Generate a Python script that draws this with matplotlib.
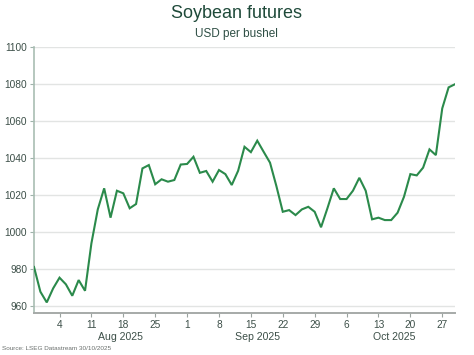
import matplotlib
matplotlib.use("Agg")
import matplotlib.pyplot as plt
import numpy as np
import pandas as pd

plt.rcParams['font.family'] = ['Liberation Sans', 'DejaVu Sans']

start_date = "2025-07-29"
end_date = "2025-10-29"
prices = [
    981.0, 967.6, 961.8, 969.4,
    975.2, 971.6, 965.4, 973.9, 968.1,
    993.8, 1012.2, 1023.6, 1007.7, 1022.3,
    1020.9, 1012.8, 1015.1, 1034.4, 1036.2,
    1025.8, 1028.5, 1027.2, 1028.1, 1036.5,
    1036.8, 1040.7, 1032.0, 1033.0, 1027.2,
    1033.5, 1031.3, 1025.4, 1033.1, 1046.1,
    1043.2, 1049.4, 1043.4, 1037.5, 1024.8,
    1010.9, 1011.8, 1009.1, 1012.2, 1013.6,
    1010.9, 1002.5, 1012.8, 1023.6, 1017.8,
    1017.8, 1022.3, 1029.3, 1022.3, 1006.8,
    1007.7, 1006.4, 1006.4, 1010.4, 1019.0,
    1031.3, 1030.6, 1034.8, 1044.7, 1041.6,
    1066.9, 1078.3, 1080.0,
]
y_ticks = [960, 980, 1000, 1020, 1040, 1060, 1080, 1100]
month_labels = ["Aug 2025", "Sep 2025", "Oct 2025"]

dates = pd.bdate_range(start_date, end_date)
idx = np.arange(len(dates))

fig = plt.figure(figsize=(4.74, 3.55), dpi=100)
ax = fig.add_axes([34/474, 1 - 313.3/355, (455 - 34)/474, (313.3 - 47.3)/355])

ax.plot(idx, prices, color='#2b8a4b', lw=1.5, solid_joinstyle='miter', zorder=3)

ax.set_xlim(0, len(dates) - 1)
ax.set_ylim(955.9, 1100)
ax.set_yticks(y_ticks)
ax.grid(axis='y', color='#e2e4e3', lw=1.0, zorder=0)

mondays = [i for i, d in enumerate(dates) if d.weekday() == 0]
ax.set_xticks(mondays)
ax.set_xticklabels([str(dates[i].day) for i in mondays])

tick_col = '#3c4f48'
ax.tick_params(axis='x', direction='out', length=3, width=0.8, color='#9aa39f',
               labelsize=7.3, labelcolor=tick_col, pad=1.5)
ax.tick_params(axis='y', direction='out', length=3, width=0.8, color='#9fb3aa',
               labelsize=7.3, labelcolor=tick_col, pad=2)

for s in ['top', 'right']:
    ax.spines[s].set_visible(False)
ax.spines['left'].set_color('#a9bdb3')
ax.spines['left'].set_linewidth(1.2)
ax.spines['bottom'].set_color('#a6aaa8')
ax.spines['bottom'].set_linewidth(1.4)

months = dates.month
for lab, m in zip(month_labels, [8, 9, 10]):
    ii = np.where(months == m)[0]
    c = (ii[0] + ii[-1] + 1) / 2
    c = min(c, len(dates) - 1 - 4)
    ax.text(c, -0.09, lab, transform=ax.get_xaxis_transform(), ha='center', va='center',
            fontsize=7.6, color=tick_col)

fig.text(236.7/474, 1 - 13/355, "Soybean futures", ha='center', va='center',
         fontsize=13, color='#1f4a3a')
fig.text(236.7/474, 1 - 34/355, "USD per bushel", ha='center', va='center',
         fontsize=8.5, color='#2f4f45')
fig.text(2/474, 1 - 349/355, "Source: LSEG Datastream 30/10/2025", ha='left', va='center',
         fontsize=4.6, color='#6a6f6d')

fig.savefig("out.png", dpi=100)
